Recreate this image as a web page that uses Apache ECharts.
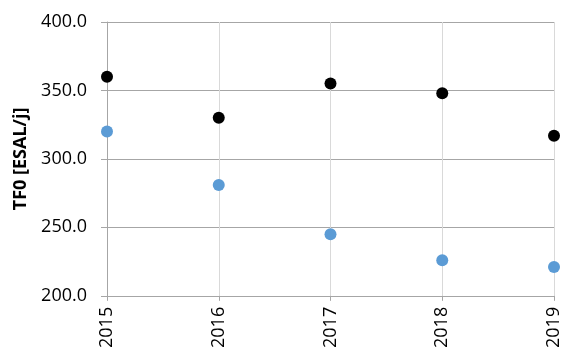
<!DOCTYPE html>
<html><head><meta charset="utf-8">
<script src="https://cdn.jsdelivr.net/npm/echarts@6/dist/echarts.min.js"></script>
<style>html,body{margin:0;padding:0;background:#fff}#c{width:563px;height:351px}</style>
</head><body><div id="c"></div>
<script>
const years = ['2015','2016','2017','2018','2019'];
const seriesBlack = [360, 330, 355, 348, 317];
const seriesBlue = [320, 281, 245, 226, 221];
const yTicks = {min: 200, max: 400, interval: 50};

const chart = echarts.init(document.getElementById('c'), null, {renderer: 'canvas'});
const font = '"Open Sans", "Liberation Sans", sans-serif';
chart.setOption({
  animation: false,
  grid: {left: 107, right: 7, top: 22, bottom: 55, containLabel: false},
  xAxis: {
    type: 'category', data: years, boundaryGap: false,
    axisLine: {show: true, lineStyle: {color: '#a6a6a6', width: 1}},
    axisTick: {show: true, length: 5, lineStyle: {color: '#a6a6a6'}},
    axisLabel: {rotate: 90, color: '#000', fontSize: 18, fontFamily: font, margin: 11},
    splitLine: {show: true, lineStyle: {color: '#d9d9d9', width: 1}}
  },
  yAxis: {
    type: 'value', min: yTicks.min, max: yTicks.max, interval: yTicks.interval,
    name: 'TF0 [ESAL/j]', nameLocation: 'middle', nameGap: 77,
    nameTextStyle: {fontSize: 18, fontWeight: 'bold', color: '#000', fontFamily: font},
    axisLine: {show: true, lineStyle: {color: '#a6a6a6', width: 1}},
    axisTick: {show: true, length: 6, lineStyle: {color: '#a6a6a6'}},
    axisLabel: {color: '#000', fontSize: 18, fontFamily: font, margin: 20,
      formatter: v => v.toFixed(1)},
    splitLine: {show: true, lineStyle: {color: '#a6a6a6', width: 1}}
  },
  series: [
    {type: 'scatter', data: seriesBlack, symbolSize: 12, itemStyle: {color: '#000000', opacity: 1}},
    {type: 'scatter', data: seriesBlue, symbolSize: 12, itemStyle: {color: '#5b9bd5', opacity: 1}}
  ]
});
</script></body></html>
